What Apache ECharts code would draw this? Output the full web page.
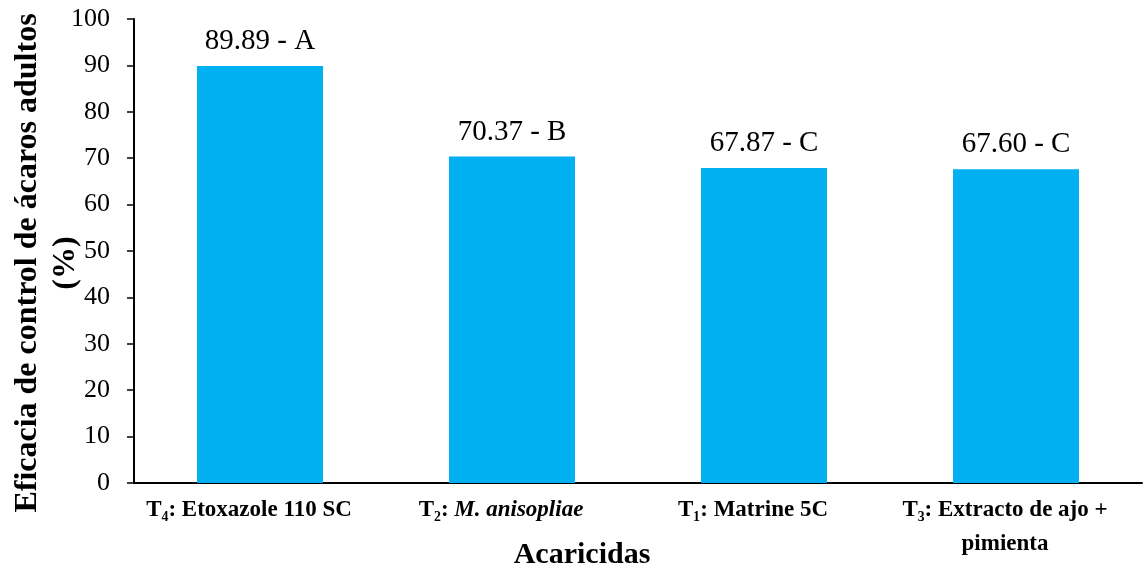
<!DOCTYPE html>
<html>
<head>
<meta charset="utf-8">
<script src="https://cdn.jsdelivr.net/npm/echarts@6/dist/echarts.min.js"></script>
<style>html,body{margin:0;padding:0;background:#fff}#c{width:1143px;height:572px}</style>
</head>
<body>
<div id="c"></div>
<script>
const categories = ['T4', 'T2', 'T1', 'T3'];
const categoryLabels = [
  '{b|T₄: Etoxazole 110 SC}',
  '{b|T₂: }{i|M. anisopliae}',
  '{b|T₁: Matrine 5C}',
  '{b|T₃: Extracto de ajo +}\n{b|pimienta}'
];
const values = [89.89, 70.37, 67.87, 67.60];
const groups = ['A', 'B', 'C', 'C'];
const yTicks = { min: 0, max: 100, interval: 10 };

const serif = '"Liberation Serif", "Times New Roman", serif';
const chart = echarts.init(document.getElementById('c'), null, { renderer: 'canvas' });
chart.setOption({
  animation: false,
  backgroundColor: '#ffffff',
  grid: { left: 134, right: 1, top: 19, bottom: 89, containLabel: false, outerBoundsMode: 'none' },
  xAxis: {
    type: 'category',
    data: categories,
    name: 'Acaricidas',
    nameLocation: 'middle',
    nameGap: 57,
    nameMoveOverlap: false,
    nameTextStyle: { fontFamily: serif, fontWeight: 'bold', fontSize: 30, lineHeight: 30, color: '#000', padding: [0, 112, 0, 0] },
    axisLine: { lineStyle: { color: '#000', width: 2 } },
    axisTick: { show: false },
    axisLabel: {
      interval: 0,
      margin: 10,
      padding: [0, 22, 0, 0],
      formatter: (v, i) => categoryLabels[i],
      rich: {
        b: { fontFamily: serif, fontWeight: 'bold', fontSize: 23, color: '#000', lineHeight: 34 },
        i: { fontFamily: serif, fontWeight: 'bold', fontStyle: 'italic', fontSize: 23, color: '#000', lineHeight: 34 }
      }
    }
  },
  yAxis: {
    type: 'value',
    min: yTicks.min, max: yTicks.max, interval: yTicks.interval,
    name: 'Eficacia de control de ácaros adultos\n(%)',
    nameLocation: 'middle',
    nameGap: 49,
    nameRotate: 90,
    nameMoveOverlap: false,
    nameTextStyle: { fontFamily: serif, fontWeight: 'bold', fontSize: 32, lineHeight: 38, color: '#000', padding: [0, 24, 0, 0] },
    axisLine: { show: true, lineStyle: { color: '#000', width: 2 } },
    axisTick: { show: true, inside: false, length: 7, lineStyle: { color: '#000', width: 1.5 } },
    splitLine: { show: false },
    axisLabel: { fontFamily: serif, fontSize: 26, color: '#000', margin: 24 }
  },
  series: [{
    type: 'bar',
    data: values,
    barWidth: '50%',
    itemStyle: { color: '#00B0F0' },
    label: {
      show: true,
      position: 'top',
      distance: 10,
      fontFamily: serif,
      fontSize: 29,
      color: '#000',
      formatter: p => p.value.toFixed(2) + ' - ' + groups[p.dataIndex]
    }
  }]
});
</script>
</body>
</html>
